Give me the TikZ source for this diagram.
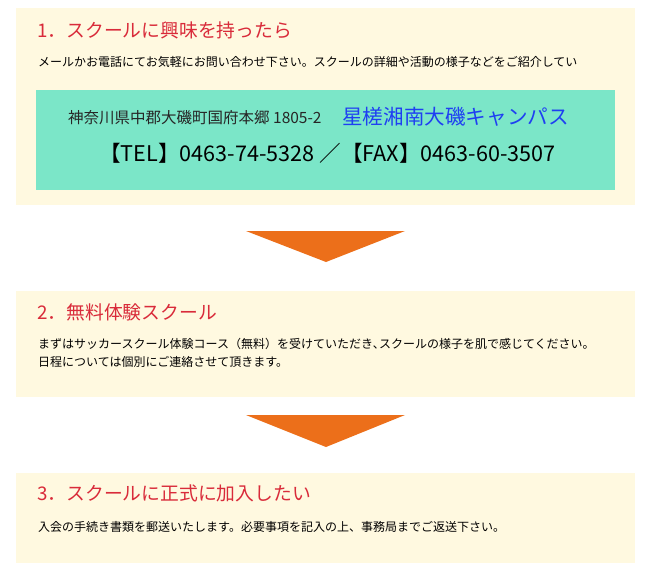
\documentclass[tikz,border=0pt]{standalone}
\usepackage{fontspec}
\setmainfont{Noto Sans CJK JP}
\usetikzlibrary{positioning}
\definecolor{cream}{HTML}{FFF9E0}
\definecolor{mint}{HTML}{7BE6C8}
\definecolor{titlered}{HTML}{D92B3A}
\definecolor{campusblue}{HTML}{1F3FF2}
\definecolor{arroworange}{HTML}{EC6F1A}

\begin{document}
\begin{tikzpicture}
[x=1pt,y=-1pt,
every node/.style={inner sep=0pt},
stepbox/.style={fill=cream,minimum width=619pt,anchor=north west},
title/.style={anchor=west,text=titlered,font=\fontsize{18.8}{22}\selectfont},
body/.style={anchor=west,align=left,font=\fontsize{12}{18}\selectfont},
flowarrow/.style={fill=arroworange}]

\useasboundingbox (0,0) rectangle (650,570);

\node[stepbox,minimum height=197pt] (step1) at (16,8) {};
\node[title] (title1) at (37,30) {1．スクールに興味を持ったら};
\node[body] (text1) at (38,62) {メールかお電話にてお気軽にお問い合わせ下さい。スクールの詳細や活動の様子などをご紹介してい};
\node[fill=mint,minimum width=579pt,minimum height=100pt,anchor=north west] (contact) at (36,90) {};
\node[anchor=west,text=black!85,font=\fontsize{15.5}{18}\selectfont] (address) at (68,118) {神奈川県中郡大磯町国府本郷 1805-2};
\node[anchor=west,text=campusblue,font=\fontsize{20.6}{24}\selectfont] (campus) at (342,117) {星槎湘南大磯キャンパス};
\node[anchor=west,font=\fontsize{21.6}{26}\selectfont] (phone) at (99,153) {【TEL】0463-74-5328 ／【FAX】0463-60-3507};

\coordinate (a1l) at (246,231);
\coordinate (a1r) at (405,231);
\coordinate (a1t) at (326,262);
\fill[flowarrow] (a1l) -- (a1r) -- (a1t) -- cycle;

\node[stepbox,minimum height=106pt] (step2) at (16,291) {};
\node[title] (title2) at (37,312) {2．無料体験スクール};
\node[body] (text2) at (38,353) {まずはサッカースクール体験コース（無料）を受けていただき､スクールの様子を肌で感じてください。\\日程については個別にご連絡させて頂きます。};

\coordinate (a2l) at (246,415);
\coordinate (a2r) at (405,415);
\coordinate (a2t) at (326,447);
\fill[flowarrow] (a2l) -- (a2r) -- (a2t) -- cycle;

\node[stepbox,minimum height=90pt] (step3) at (16,473) {};
\node[title] (title3) at (37,493) {3．スクールに正式に加入したい};
\node[body] (text3) at (38,527) {入会の手続き書類を郵送いたします。必要事項を記入の上、事務局までご返送下さい。};
\end{tikzpicture}
\end{document}
